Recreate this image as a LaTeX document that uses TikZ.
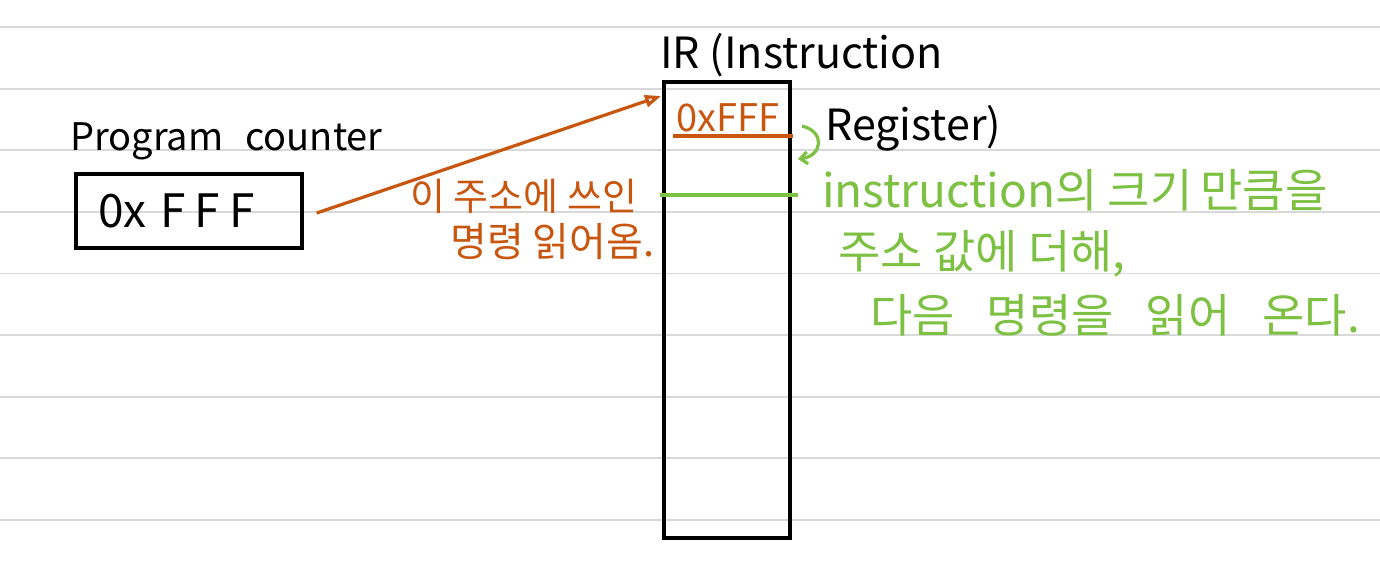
\documentclass[tikz,border=0pt]{standalone}
\usepackage{fontspec}
\setmainfont{Noto Sans CJK KR}
\usetikzlibrary{arrows.meta}
\definecolor{pen}{HTML}{C8560F}
\definecolor{leaf}{HTML}{7DC142}
\definecolor{rule}{HTML}{D9D9D9}
\newcommand\fsz[1]{\fontsize{#1}{#1}\selectfont}

\begin{document}
\begin{tikzpicture}[x=1pt,y=-1pt,>=Stealth,
  box/.style={draw,line width=3.4pt,inner sep=0pt},
  txt/.style={anchor=base west,inner sep=0pt},
  orangeline/.style={pen,line width=3.2pt},
  greenline/.style={leaf,line width=3.2pt}]
 \useasboundingbox[fill=white](0,0)rectangle(1380,578);
 \foreach \y in {27,88.6,...,520}\draw[rule,line width=1.8pt](0,\y)--(1380,\y);
 % program counter
 \node[txt,font=\fsz{38}](pclabel)at(70,150){Program\hspace{22pt}counter};
 \node[box,minimum width=226,minimum height=74,text width=182pt,align=left,font=\fsz{46}](pc)at(189,211){0x\hspace{14pt}F\hspace{9pt}F\hspace{9pt}F};
 % instruction register
 \node[box,minimum width=126,minimum height=456](ir)at(727,310){};
 \node[txt,font=\fsz{43}](irlabel)at(660,68){IR (Instruction};
 \node[txt,font=\fsz{43}](irlabel2)at(825,140){Register)};
 \node[txt,pen,font=\fsz{38}](iraddr)at(676,131){0xFFF};
 \draw[orangeline](673,136)--(793,136);
 \coordinate(irin)at(661,96);
 \draw[orangeline,-{Triangle[open,length=16pt,width=12pt]}]([xshift=13pt,yshift=-2pt]pc.east)--(irin);
 \node[txt,pen,font=\fsz{38}](readnote)at(410,210){이 주소에 쓰인};
 \node[txt,pen,font=\fsz{40}](readnote2)at(450,256){명령 읽어옴.};
 % next instruction
 \draw[greenline](660,195)--(798,195);
 \draw[greenline,-{Straight Barb[length=7pt,width=12pt]}](802,126)..controls(826,132)and(822,156)..(798,159);
 \node[txt,leaf,font=\fsz{46}](nextnote)at(822,207){instruction의\hspace{10pt}크기\hspace{8pt}만큼을};
 \node[txt,leaf,font=\fsz{46}](nextnote2)at(838,268){주소 값에 더해,};
 \node[txt,leaf,font=\fsz{46}](nextnote3)at(870,332){다음\hspace{32pt}명령을\hspace{32pt}읽어\hspace{32pt}온다.};
\end{tikzpicture}
\end{document}
